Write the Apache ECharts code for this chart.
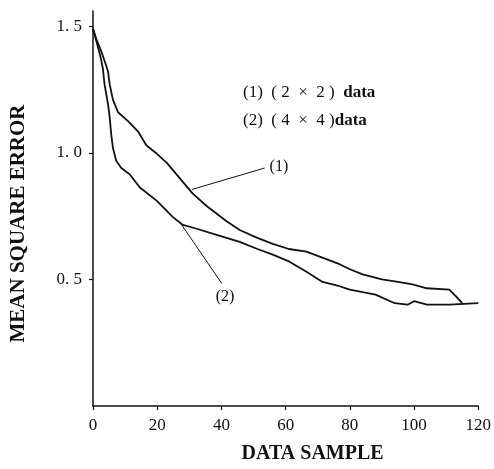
<!DOCTYPE html>
<html>
<head>
<meta charset="utf-8">
<script src="https://cdn.jsdelivr.net/npm/echarts@6/dist/echarts.min.js"></script>
<style>html,body{margin:0;padding:0;background:#fff;}#c{width:494px;height:469px;}</style>
</head>
<body>
<div id="c"></div>
<script>
// Curve (1): (2 x 2) data
const x1 = [0, 1, 2.6, 4.1, 4.7, 5.2, 6.2, 7.8, 10.9, 14, 16.6, 20, 23, 27, 31, 35.4, 41.6, 45.7, 51, 56, 61, 66.5, 70.6, 76.8, 80, 84, 90, 95, 99.5, 104, 111, 113, 115];
const y1 = [1.49, 1.45, 1.40, 1.345, 1.32, 1.27, 1.21, 1.16, 1.125, 1.085, 1.03, 0.995, 0.96, 0.90, 0.84, 0.79, 0.73, 0.695, 0.665, 0.64, 0.62, 0.61, 0.59, 0.56, 0.54, 0.52, 0.50, 0.49, 0.48, 0.465, 0.46, 0.434, 0.406];
// Curve (2): (4 x 4) data
const x2 = [0, 1.5, 2.5, 3.1, 3.6, 4.7, 5.2, 5.7, 6.2, 7.2, 8.8, 11.4, 14.6, 19.9, 24.9, 28, 32.3, 38.5, 45.7, 51, 56, 61.2, 66.5, 71.5, 76.8, 80, 88, 94, 98, 100, 104, 111, 120];
const y2 = [1.49, 1.42, 1.37, 1.33, 1.27, 1.19, 1.14, 1.07, 1.02, 0.97, 0.94, 0.915, 0.863, 0.81, 0.746, 0.715, 0.70, 0.676, 0.648, 0.621, 0.598, 0.57, 0.53, 0.49, 0.473, 0.46, 0.44, 0.406, 0.40, 0.414, 0.40, 0.40, 0.406];

const yTickValues = [0.5, 1.0, 1.5];
const yTickLabels = ['0. 5', '1. 0', '1. 5'];
const xTickValues = [0, 20, 40, 60, 80, 100, 120];

const legendItems = ['(1)  ( 2  ×  2 )  ', '(2)  ( 4  ×  4 )'];
const legendSuffix = 'data';
const xTitle = 'DATA SAMPLE';
const yTitle = 'MEAN SQUARE ERROR';

// leader lines (data coordinates) and labels
const leader1 = [[30.8, 0.855], [53.5, 0.94]];
const leader2 = [[27, 0.727], [40.1, 0.484]];
const leaderLabels = ['(1)', '(2)'];

const serif = '"Liberation Serif", "DejaVu Serif", serif';

const chart = echarts.init(document.getElementById('c'), null, {renderer: 'canvas'});

function zip(xs, ys) { return xs.map((x, i) => [x, ys[i]]); }

const option = {
  animation: false,
  backgroundColor: '#fff',
  grid: {left: 93, right: 15, top: 11, bottom: 58},
  xAxis: {
    type: 'value', min: 0, max: 120, interval: 20,
    name: xTitle, nameLocation: 'middle', nameGap: 38,
    nameTextStyle: {fontFamily: serif, fontSize: 20, fontWeight: 'bold', color: '#111', padding: [0, 0, 0, 54]},
    axisLine: {show: true, lineStyle: {color: '#111', width: 1.5}},
    axisTick: {show: true, inside: false, length: 4, lineStyle: {color: '#111', width: 1.2}},
    axisLabel: {margin: 11, fontFamily: serif, fontSize: 17, color: '#111'},
    splitLine: {show: false}
  },
  yAxis: {
    type: 'value', min: 0, max: 1.56, interval: 0.5,
    name: yTitle, nameLocation: 'middle', nameGap: 64, nameRotate: 90,
    nameTextStyle: {fontFamily: serif, fontSize: 21, fontWeight: 'bold', color: '#111', padding: [0, 30, 0, 0]},
    axisLine: {show: true, lineStyle: {color: '#111', width: 1.5}},
    axisTick: {show: true, inside: false, length: 4, customValues: yTickValues, lineStyle: {color: '#111', width: 1.2}},
    axisLabel: {margin: 11, fontFamily: serif, fontSize: 17, color: '#111', customValues: yTickValues,
      formatter: function (v) { const i = yTickValues.findIndex(t => Math.abs(t - v) < 1e-6); return i >= 0 ? yTickLabels[i] : ''; }},
    splitLine: {show: false}
  },
  series: [
    {
      type: 'line', name: '(1)', data: zip(x1, y1), showSymbol: false, symbol: 'none',
      lineStyle: {color: '#111', width: 1.8},
      markLine: {
        silent: true, symbol: ['none', 'none'],
        lineStyle: {color: '#111', width: 1, type: 'solid'},
        label: {show: true, position: 'end', formatter: leaderLabels[0], fontFamily: serif, fontSize: 16, color: '#111', distance: 5},
        data: [[{coord: leader1[0]}, {coord: leader1[1]}]]
      }
    },
    {
      type: 'line', name: '(2)', data: zip(x2, y2), showSymbol: false, symbol: 'none',
      lineStyle: {color: '#111', width: 1.8},
      markLine: {
        silent: true, symbol: ['none', 'none'],
        lineStyle: {color: '#111', width: 1, type: 'solid'},
        label: {show: true, position: 'end', formatter: leaderLabels[1], fontFamily: serif, fontSize: 16, color: '#111', distance: 6},
        data: [[{coord: leader2[0]}, {coord: leader2[1]}]]
      }
    }
  ],
  graphic: [
    {type: 'text', left: 243, top: 84, style: {
      text: '{n|' + legendItems[0] + '}{b|' + legendSuffix + '}',
      rich: {n: {fontFamily: serif, fontSize: 17, fill: '#111'}, b: {fontFamily: serif, fontSize: 17, fontWeight: 'bold', fill: '#111'}}
    }},
    {type: 'text', left: 243, top: 112, style: {
      text: '{n|' + legendItems[1] + '}{b|' + legendSuffix + '}',
      rich: {n: {fontFamily: serif, fontSize: 17, fill: '#111'}, b: {fontFamily: serif, fontSize: 17, fontWeight: 'bold', fill: '#111'}}
    }}
  ]
};
chart.setOption(option);
</script>
</body>
</html>
